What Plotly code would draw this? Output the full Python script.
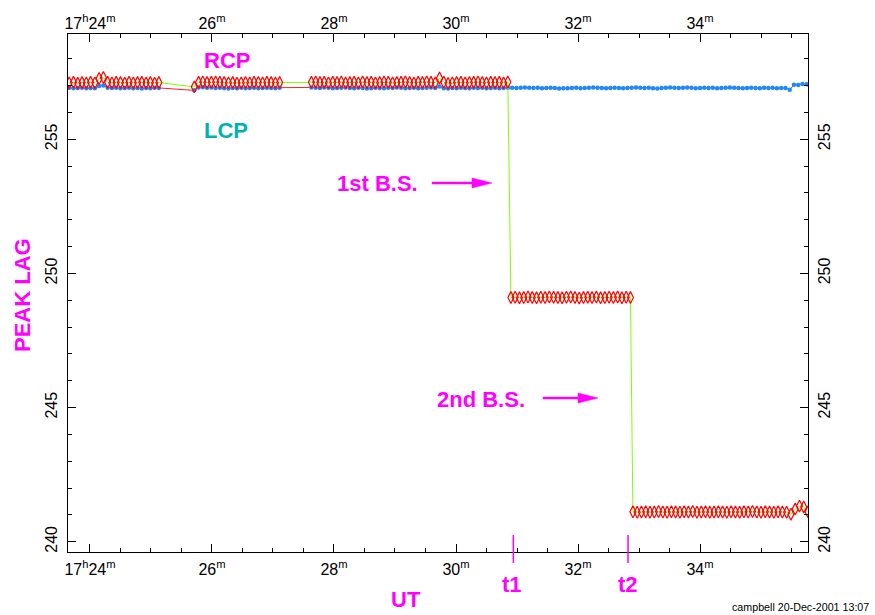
import plotly.graph_objects as go

# ---------------- data ----------------
DT = 0.07  # sampling interval in minutes (~4.2 s)

# segment start times (minutes after 17h00m)
start_a, start_b, start_c = 23.66, 25.71, 27.63
start_d, start_e = 30.90, 32.90
start_f = 30.92  # LCP continuation

rcp_a = [257.10, 257.12, 257.09, 257.11, 257.10, 257.12, 257.10, 257.26, 257.30, 257.12, 257.10,
         257.12, 257.11, 257.09, 257.12, 257.10, 257.11, 257.12, 257.10, 257.11, 257.09, 257.11]
lcp_a = [256.92, 256.90, 256.91, 256.92, 256.90, 256.91, 256.90, 256.98, 257.00, 256.92, 256.91,
         256.92, 256.90, 256.91, 256.92, 256.90, 256.91, 256.89, 256.91, 256.90, 256.92, 256.91]

rcp_b = [256.95, 257.12, 257.13, 257.11, 257.12, 257.13, 257.12, 257.11, 257.10, 257.11, 257.09,
         257.10, 257.11, 257.10, 257.12, 257.11, 257.10, 257.12, 257.11, 257.10, 257.11]
lcp_b = [256.82, 256.93, 256.94, 256.92, 256.93, 256.91, 256.92, 256.90, 256.89, 256.91, 256.90,
         256.92, 256.90, 256.91, 256.92, 256.90, 256.91, 256.92, 256.91, 256.90, 256.92]

rcp_c = [257.12, 257.13, 257.11, 257.12, 257.10, 257.12, 257.11, 257.13, 257.10, 257.11,
         257.12, 257.10, 257.13, 257.11, 257.12, 257.10, 257.11, 257.13, 257.12, 257.10,
         257.11, 257.12, 257.13, 257.11, 257.10, 257.12, 257.11, 257.13, 257.12, 257.10,
         257.28, 257.12, 257.08, 257.10, 257.11, 257.12, 257.10, 257.11, 257.12, 257.13,
         257.11, 257.10, 257.12, 257.11, 257.12, 257.10, 257.13]
lcp_c = [256.93, 256.92, 256.91, 256.93, 256.92, 256.90, 256.91, 256.92, 256.93, 256.91,
         256.90, 256.92, 256.91, 256.89, 256.90, 256.92, 256.91, 256.90, 256.92, 256.91,
         256.93, 256.92, 256.90, 256.91, 256.92, 256.90, 256.91, 256.92, 256.93, 256.91,
         256.96, 256.90, 256.89, 256.91, 256.90, 256.92, 256.91, 256.90, 256.92, 256.91,
         256.92, 256.90, 256.91, 256.92, 256.90, 256.91, 256.92]

rcp_d = [249.10, 249.11, 249.09, 249.10, 249.12, 249.10, 249.09, 249.11, 249.10, 249.12,
         249.11, 249.10, 249.09, 249.11, 249.12, 249.10, 249.08, 249.10, 249.11, 249.10,
         249.12, 249.09, 249.10, 249.11, 249.10, 249.12, 249.09, 249.11, 249.10]

rcp_e = [241.12, 241.10, 241.11, 241.12, 241.10, 241.11, 241.13, 241.11, 241.10, 241.12,
         241.11, 241.10, 241.12, 241.11, 241.13, 241.10, 241.11, 241.12, 241.10, 241.11,
         241.12, 241.11, 241.10, 241.12, 241.11, 241.10, 241.12, 241.11, 241.13, 241.11,
         241.10, 241.12, 241.11, 241.10, 241.12, 241.11, 241.10, 241.03, 241.22, 241.33,
         241.30, 241.12]

lcp_f = [256.92, 256.91, 256.92, 256.93, 256.92, 256.91, 256.92, 256.90, 256.91, 256.92,
         256.91, 256.89, 256.90, 256.90, 256.91, 256.92, 256.90, 256.91, 256.92, 256.93,
         256.92, 256.91, 256.90, 256.91, 256.92, 256.91, 256.90, 256.91, 256.92, 256.93,
         256.92, 256.91, 256.92, 256.90, 256.89, 256.91, 256.92, 256.93, 256.92, 256.91,
         256.92, 256.93, 256.92, 256.90, 256.91, 256.92, 256.91, 256.92, 256.90, 256.91,
         256.92, 256.93, 256.92, 256.91, 256.90, 256.91, 256.92, 256.91, 256.90, 256.92,
         256.91, 256.92, 256.90, 256.91, 256.91, 256.84,
         257.03, 257.02, 257.06, 257.05, 257.00]

t1_time, t2_time = 30.94, 32.82

x_tickvals = [24, 26, 28, 30, 32, 34]
x_ticktext = ["17<sup>h</sup>24<sup>m</sup>", "26<sup>m</sup>", "28<sup>m</sup>",
              "30<sup>m</sup>", "32<sup>m</sup>", "34<sup>m</sup>"]
y_tickvals = [240, 245, 250, 255]
y_ticktext = ["240", "245", "250", "255"]

x_range = [23.64, 35.77]
y_range = [239.62, 258.92]


def times(start, vals):
    return [round(start + i * DT, 4) for i in range(len(vals))]


rcp_t = times(start_a, rcp_a) + times(start_b, rcp_b) + times(start_c, rcp_c) + \
    times(start_d, rcp_d) + times(start_e, rcp_e)
rcp_v = rcp_a + rcp_b + rcp_c + rcp_d + rcp_e
lcp_t = times(start_a, lcp_a) + times(start_b, lcp_b) + times(start_c, lcp_c) + times(start_f, lcp_f)
lcp_v = lcp_a + lcp_b + lcp_c + lcp_f

# ---------------- layout constants ----------------
W, H = 875, 615
L, R, T, B = 68, 808, 34, 552
FONT = "Liberation Sans, Arial, Helvetica, sans-serif"
MAG = "#ff00ff"


def px(xp):
    return (xp - L) / (R - L)


def py(yp):
    return (B - yp) / (B - T)


fig = go.Figure()

fig.add_trace(go.Scatter(
    x=lcp_t, y=lcp_v, mode="lines+markers", name="LCP",
    line=dict(color="#ff2020", width=1),
    marker=dict(symbol="circle", size=4.5, color="#1e88ff", line=dict(width=0)),
))
fig.add_trace(go.Scatter(
    x=rcp_t, y=rcp_v, mode="lines+markers", name="RCP",
    line=dict(color="#7fff00", width=1),
    marker=dict(symbol="diamond-tall-open", size=8.5, color="#ff0000",
                line=dict(width=1.2, color="#ff0000")),
))
# helper trace so that the label-only top/right axes are drawn
fig.add_trace(go.Scatter(x=[x_range[0]], y=[y_range[0]], xaxis="x2", yaxis="y2",
                         mode="markers", marker=dict(opacity=0), hoverinfo="skip",
                         showlegend=False))

tickfont = dict(family=FONT, size=16, color="black")

fig.update_layout(
    width=W, height=H,
    margin=dict(l=L, r=W - R, t=T, b=H - B),
    plot_bgcolor="white", paper_bgcolor="white",
    showlegend=False,
    xaxis=dict(range=x_range, tickvals=x_tickvals, ticktext=x_ticktext,
               ticks="inside", ticklen=8, tickwidth=1, tickcolor="black",
               showline=True, linecolor="black", linewidth=1, mirror="allticks",
               showgrid=False, zeroline=False, tickfont=tickfont, ticklabelstandoff=3,
               minor=dict(dtick=0.5, tick0=0, ticks="inside", ticklen=4,
                          tickcolor="black", showgrid=False)),
    xaxis2=dict(range=x_range, tickvals=x_tickvals, ticktext=x_ticktext,
                overlaying="x", side="top", anchor="y", ticks="", showline=False,
                showgrid=False, zeroline=False, tickfont=tickfont, ticklabelstandoff=1),
    yaxis=dict(range=y_range, tickvals=y_tickvals, ticktext=y_ticktext, tickangle=-90,
               ticks="inside", ticklen=8, tickwidth=1, tickcolor="black",
               showline=True, linecolor="black", linewidth=1, mirror="allticks",
               showgrid=False, zeroline=False, tickfont=tickfont, ticklabelstandoff=4,
               minor=dict(dtick=1, tick0=0, ticks="inside", ticklen=4,
                          tickcolor="black", showgrid=False)),
    yaxis2=dict(range=y_range, tickvals=y_tickvals, ticktext=y_ticktext, tickangle=-90,
                overlaying="y", side="right", anchor="x", ticks="", showline=False,
                showgrid=False, zeroline=False, tickfont=tickfont, ticklabelstandoff=5),
)

bold = dict(family=FONT, size=22, color=MAG)


def add_text(text, xp, yp, font, angle=0):
    fig.add_annotation(text=text, x=px(xp), y=py(yp), xref="paper", yref="paper",
                       showarrow=False, font=font, textangle=angle,
                       xanchor="center", yanchor="middle")


add_text("<b>RCP</b>", 227, 60, bold)
add_text("<b>LCP</b>", 226, 131, dict(family=FONT, size=22, color="#00b2b2"))
add_text("<b>1st B.S.</b>", 377, 183, bold)
add_text("<b>2nd B.S.</b>", 481, 399, bold)
add_text("<b>PEAK LAG</b>", 22, 295, bold, angle=-90)
add_text("<b>UT</b>", 406, 599, bold)
add_text("<b>t1</b>", 512, 584, bold)
add_text("<b>t2</b>", 628, 584, bold)
add_text("campbell 20-Dec-2001 13:07", 800, 607, dict(family=FONT, size=10.7, color="black"))

# arrows (shaft + slender filled head, in pixel units from the tip)
for tip_x, tip_y, length in [(492, 183, 60), (598, 398, 55)]:
    fig.add_shape(type="path", xref="paper", yref="paper",
                  xsizemode="pixel", ysizemode="pixel",
                  xanchor=px(tip_x), yanchor=py(tip_y),
                  path=f"M{-length},-1 L-20,-1 L-20,-5 L0,0 L-20,5 L-20,1 L{-length},1 Z",
                  fillcolor=MAG, line=dict(color=MAG, width=0.5))

# t1 / t2 markers below the axis
for tt in [t1_time, t2_time]:
    fig.add_shape(type="line", xref="x", yref="paper", x0=tt, x1=tt,
                  y0=py(563), y1=py(535), line=dict(color=MAG, width=1.5))

fig.write_html("out.html")
